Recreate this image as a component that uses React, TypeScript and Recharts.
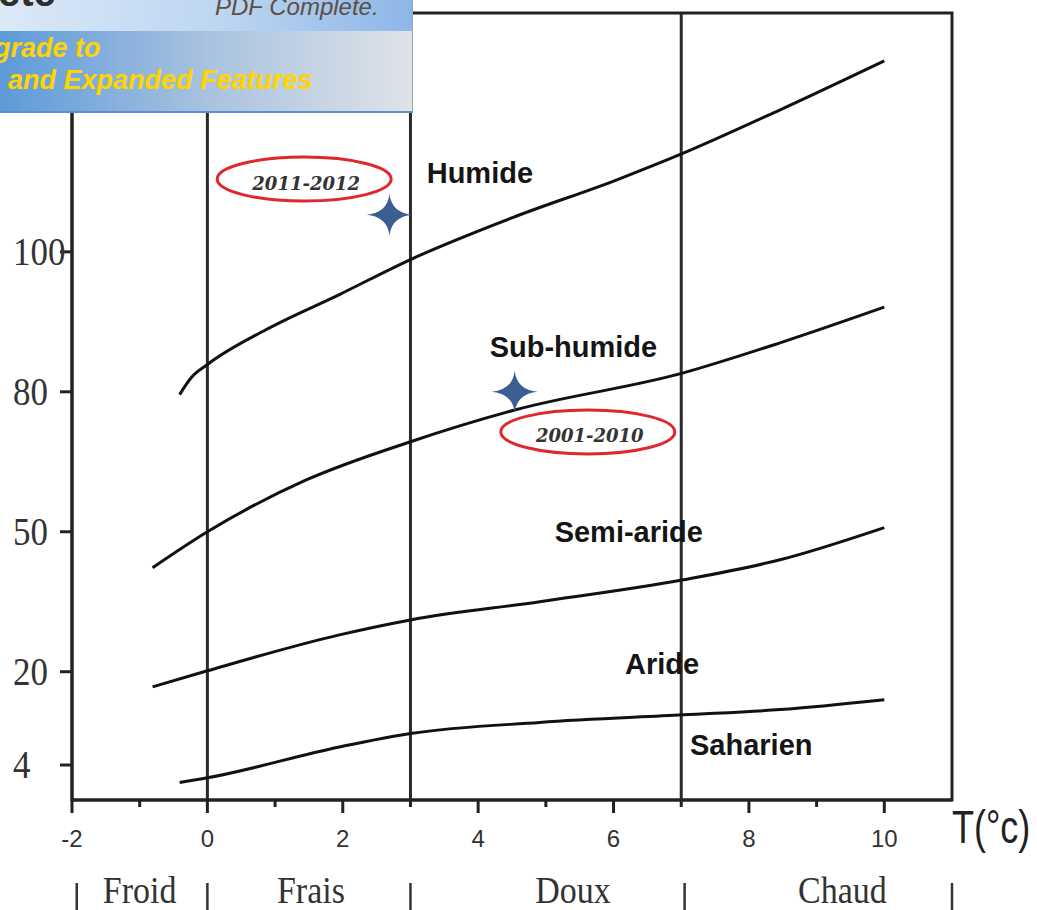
import React from 'react';
import {
  ComposedChart,
  Line,
  Scatter,
  XAxis,
  YAxis,
  ReferenceLine,
  ReferenceArea,
} from 'recharts';

// Q2 axis: labels are not evenly spaced, so map Q -> axis position piecewise
const yTickLabels = [4, 20, 50, 80, 100];
const yTickPos = [0, 1, 2.5, 4, 5.5];

const qToPos = (q: number) => {
  let i = 0;
  while (i < yTickLabels.length - 2 && q > yTickLabels[i + 1]) i++;
  const t = (q - yTickLabels[i]) / (yTickLabels[i + 1] - yTickLabels[i]);
  return yTickPos[i] + t * (yTickPos[i + 1] - yTickPos[i]);
};

// temperature (m, °C) ticks
const xTicks = [-2, -1, 0, 1, 2, 3, 4, 5, 6, 7, 8, 9, 10];

// bioclimate boundaries
const humideT = [-0.41, -0.24, 0, 0.87, 1.95, 3, 4.51, 6.05, 7.03, 8.46, 10];
const humideQ = [79.4, 82.0, 83.9, 88.9, 93.9, 98.9, 104.9, 110.3, 114.1, 120.3, 127.3];

const subHumideT = [-0.81, 0, 1.46, 3, 4.54, 7.03, 8.46, 10];
const subHumideQ = [42.3, 50.0, 61.1, 69.3, 76.1, 82.7, 87.0, 92.1];

const semiArideT = [-0.81, 0, 1.95, 3, 4.91, 7.03, 8.46, 10];
const semiArideQ = [17.4, 20.2, 27.9, 31.1, 35.0, 39.7, 44.0, 50.9];

const arideT = [-0.41, 0, 1.95, 3, 4.91, 7.03, 8.46, 10];
const arideQ = [1.0, 1.8, 7.1, 9.4, 11.3, 12.6, 13.5, 15.2];

// station points
const starT = [2.69, 4.54];
const starQ = [105.3, 80.0];

// period labels (red ellipses)
const periods = ['2011-2012', '2001-2010'];
const periodT = [1.43, 5.62];
const periodQ = [110.4, 71.4];

// zone names
const zoneNames = ['Humide', 'Sub-humide', 'Semi-aride', 'Aride', 'Saharien'];
const zoneT = [3.24, 4.17, 5.13, 6.17, 7.13];
const zoneQ = [111.3, 86.4, 50, 21.7, 7.5];

// winter classes
const thermalLimits = [0, 3, 7];
const classNames = ['Froid', 'Frais', 'Doux', 'Chaud'];
const classCenter = [-1.0, 1.53, 5.4, 9.38];
const classBounds = [-1.93, 0, 3, 7.05, 11];

const allXTicks = Array.from(new Set([...xTicks, ...classBounds, ...classCenter])).sort((a, b) => a - b);

const toSeries = (ts: number[], qs: number[]) =>
  ts.map((t, i) => ({ t, pos: qToPos(qs[i]) }));

const humide = toSeries(humideT, humideQ);
const subHumide = toSeries(subHumideT, subHumideQ);
const semiAride = toSeries(semiArideT, semiArideQ);
const aride = toSeries(arideT, arideQ);
const stars = toSeries(starT, starQ);
const periodPts = periods.map((name, i) => ({ t: periodT[i], pos: qToPos(periodQ[i]), name }));
const zonePts = zoneNames.map((name, i) => ({ t: zoneT[i], pos: qToPos(zoneQ[i]), name }));

const SANS = "'Liberation Sans', Arial, sans-serif";
const SERIF = "'Liberation Serif', 'Times New Roman', serif";

const XTick = (props: any) => {
  const { x, y, payload } = props;
  const v = payload.value;
  const isTick = xTicks.indexOf(v) >= 0;
  const major = isTick && v % 2 === 0;
  const isBound = classBounds.indexOf(v) >= 0;
  const ci = classCenter.indexOf(v);
  return (
    <g>
      {isTick && <line x1={x} x2={x} y1={y} y2={y + (major ? 13 : 7)} stroke="#222" strokeWidth={3} />}
      {major && (
        <text x={x} y={y + 38} textAnchor="middle" dominantBaseline="central" fontFamily={SANS} fontSize={24} fill="#333">
          {v}
        </text>
      )}
      {isBound && <line x1={x} x2={x} y1={y + 83} y2={y + 112} stroke="#333" strokeWidth={2.5} />}
      {ci >= 0 && (
        <text
          transform={`translate(${x},${y + 90}) scale(1,1.1)`}
          textAnchor="middle"
          dominantBaseline="central"
          fontFamily={SERIF}
          fontSize={34}
          fill="#333"
        >
          {classNames[ci]}
        </text>
      )}
    </g>
  );
};

const YTick = (props: any) => {
  const { x, y, payload } = props;
  const label = yTickLabels[yTickPos.indexOf(payload.value)];
  return (
    <g>
      <line x1={x - 12} x2={x} y1={y} y2={y} stroke="#222" strokeWidth={3} />
      <text
        transform={`translate(${x - 59},${y}) scale(1,1.12)`}
        dominantBaseline="central"
        fontFamily={SERIF}
        fontSize={35}
        fill="#333"
      >
        {label}
      </text>
    </g>
  );
};

const StarShape = (props: any) => {
  const { cx, cy } = props;
  return (
    <path
      transform={`translate(${cx},${cy})`}
      d="M0,-21 Q2,-2 23,0 Q2,2 0,21 Q-2,2 -23,0 Q-2,-2 0,-21Z"
      fill="#3b5f93"
    />
  );
};

const PeriodShape = (props: any) => {
  const { cx, cy, payload } = props;
  return (
    <g>
      <ellipse cx={cx} cy={cy} rx={87} ry={22} fill="none" stroke="#e2262b" strokeWidth={3} />
      <text
        x={cx + 2}
        y={cy + 4}
        textAnchor="middle"
        dominantBaseline="central"
        fontFamily="'DejaVu Serif', serif"
        fontStyle="italic"
        fontWeight="bold"
        fontSize={18}
        fill="#333"
      >
        {payload.name}
      </text>
    </g>
  );
};

const ZoneShape = (props: any) => {
  const { cx, cy, payload } = props;
  return (
    <text x={cx} y={cy} dominantBaseline="central" fontFamily={SANS} fontWeight="bold" fontSize={29} fill="#151515">
      {payload.name}
    </text>
  );
};

const AxisTitle = (props: any) => {
  const { viewBox } = props;
  const x = viewBox.x + viewBox.width;
  const y = viewBox.y + 43;
  return (
    <text transform={`translate(${x},${y}) scale(1,1.3)`} fontFamily={SANS} fontSize={36} fill="#222">
      T(°c)
    </text>
  );
};

const lineStyle = { stroke: '#111', strokeWidth: 3 };

export default function App() {
  return (
    <div style={{ position: 'absolute', left: 0, top: 0, width: 1037, height: 910, background: '#fff', overflow: 'hidden' }}>
      <ComposedChart width={1037} height={910} margin={{ top: 13, right: 85, bottom: 0, left: 0 }}>
        <XAxis
          dataKey="t"
          type="number"
          domain={[-2, 11]}
          allowDataOverflow
          ticks={allXTicks}
          interval={0}
          tick={<XTick />}
          tickLine={false}
          tickSize={0}
          tickMargin={0}
          height={110}
          axisLine={{ stroke: '#222', strokeWidth: 3 }}
          label={<AxisTitle />}
        />
        <YAxis
          dataKey="pos"
          type="number"
          domain={[-0.375, 8.06]}
          allowDataOverflow
          ticks={yTickPos}
          interval={0}
          tick={<YTick />}
          tickLine={false}
          tickSize={0}
          tickMargin={0}
          width={72}
          axisLine={{ stroke: '#222', strokeWidth: 3 }}
        />
        <ReferenceArea x1={-2} x2={11} y1={-0.375} y2={8.06} fill="none" stroke="#222" strokeWidth={3} fillOpacity={0} />
        {thermalLimits.map((v) => (
          <ReferenceLine key={v} x={v} stroke="#2a2a2a" strokeWidth={3} />
        ))}
        <Line data={humide} dataKey="pos" type="monotone" dot={false} {...lineStyle} isAnimationActive={false} />
        <Line data={subHumide} dataKey="pos" type="monotone" dot={false} {...lineStyle} isAnimationActive={false} />
        <Line data={semiAride} dataKey="pos" type="monotone" dot={false} {...lineStyle} isAnimationActive={false} />
        <Line data={aride} dataKey="pos" type="monotone" dot={false} {...lineStyle} isAnimationActive={false} />
        <Scatter data={zonePts} dataKey="pos" shape={<ZoneShape />} isAnimationActive={false} />
        <Scatter data={periodPts} dataKey="pos" shape={<PeriodShape />} isAnimationActive={false} />
        <Scatter data={stars} dataKey="pos" shape={<StarShape />} isAnimationActive={false} />
      </ComposedChart>

      {/* PDF watermark banner from the source scan */}
      <div
        style={{
          position: 'absolute',
          left: 0,
          top: 0,
          width: 412,
          height: 111,
          overflow: 'hidden',
          borderRight: '1px solid #9aa6b4',
          borderBottom: '2px solid #5b8fd0',
          fontFamily: SANS,
        }}
      >
        <div style={{ position: 'relative', height: 31, background: 'linear-gradient(to right, #dce9f7, #bcd5f1 55%, #8db6e8)' }}>
          <div style={{ position: 'absolute', left: -2, top: -28, fontSize: 40, lineHeight: '40px', fontWeight: 'bold', color: '#2e2e2e' }}>
            ete
          </div>
          <div style={{ position: 'absolute', left: 215, top: -5, fontSize: 24, lineHeight: '24px', fontStyle: 'italic', color: '#5c4f43' }}>
            PDF Complete.
          </div>
        </div>
        <div style={{ position: 'relative', height: 80, background: 'linear-gradient(to right, #5d9ad9, #a8c2df 50%, #dfe3e8)' }}>
          <div style={{ position: 'absolute', left: -6, top: 4, fontSize: 27, lineHeight: '27px', fontWeight: 'bold', fontStyle: 'italic', color: '#ffd400', whiteSpace: 'nowrap' }}>
            grade to
          </div>
          <div style={{ position: 'absolute', left: 8, top: 36, fontSize: 27, lineHeight: '27px', fontWeight: 'bold', fontStyle: 'italic', color: '#ffd400', whiteSpace: 'nowrap' }}>
            and Expanded Features
          </div>
        </div>
      </div>
    </div>
  );
}
